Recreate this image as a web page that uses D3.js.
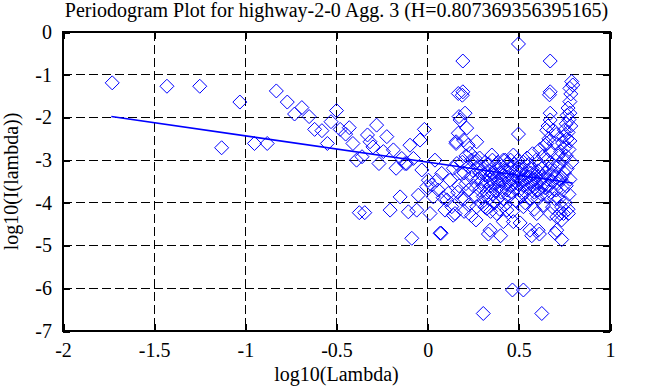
<!DOCTYPE html>
<html>
<head>
<meta charset="utf-8">
<script src="https://cdn.jsdelivr.net/npm/d3@7"></script>
<style>
body { margin: 0; background: #fff; }
svg text { font-family: "Liberation Serif", "DejaVu Serif", serif !important; fill: #000; }
</style>
</head>
<body>
<svg id="chart" width="648" height="387"></svg>
<script>
const title = "Periodogram Plot for highway-2-0 Agg. 3 (H=0.807369356395165)";
const xLabel = "log10(Lambda)";
const yLabel = "log10(I(lambda))";
const xTicks = [-2, -1.5, -1, -0.5, 0, 0.5, 1];
const yTicks = [0, -1, -2, -3, -4, -5, -6, -7];

// low frequencies, one point each
const lowBand = [
    [-1.73, -1.19], [-1.43, -1.27], [-1.25, -1.27], [-1.13, -2.71], [-1.03, -1.64],
    [-0.95, -2.61], [-0.88, -2.61], [-0.83, -1.38], [-0.77, -1.64], [-0.73, -1.92],
    [-0.69, -1.77], [-0.65, -1.98], [-0.62, -2.28], [-0.58, -2.31], [-0.55, -2.61],
    [-0.53, -2.10], [-0.50, -1.84], [-0.48, -2.28], [-0.45, -2.39], [-0.43, -2.24],
    [-0.41, -2.61], [-0.39, -3.00], [-0.375, -4.23], [-0.36, -2.92], [-0.345, -4.23],
    [-0.33, -2.41], [-0.316, -2.57], [-0.30, -2.69], [-0.28, -2.18], [-0.267, -3.08],
    [-0.243, -2.80], [-0.224, -2.45], [-0.206, -4.17], [-0.188, -2.76], [-0.173, -3.19],
    [-0.151, -3.86], [-0.142, -2.96], [-0.124, -3.08], [-0.115, -3.08], [-0.106, -4.21],
    [-0.097, -2.65], [-0.087, -4.83], [-0.078, -2.96], [-0.06, -4.17], [-0.051, -3.82],
    [-0.042, -2.53], [-0.032, -3.23], [-0.018, -2.28], [-0.005, -3.62], [0.004, -3.47],
    [0.013, -4.25], [0.022, -3.58], [0.031, -3.86], [0.040, -3.00], [0.050, -3.47],
    [0.058, -3.70], [0.068, -4.71], [0.077, -3.31], [0.085, -3.88], [0.095, -4.17],
    [0.105, -3.93], [0.113, -3.78], [0.123, -3.47], [0.132, -4.09], [0.141, -3.19],
    [0.150, -4.25], [0.156, -2.61], [0.160, -3.08], [0.165, -3.75], [0.172, -3.60],
    [0.180, -3.30], [0.185, -3.90], [0.190, -3.05]
];

// dense band at high frequencies: x with the y values stacked above it
const cloud = [
    [0.20, [-3.3, -3.9, -4.2]], [0.21, [-2.9, -3.55]], [0.225, [-3.15, -3.7, -4.05]],
    [0.24, [-3.4, -3.0, -4.3]], [0.25, [-3.6, -3.25]], [0.265, [-3.05, -3.85, -4.4]],
    [0.275, [-3.45, -3.15]], [0.285, [-3.7, -3.3, -2.95]], [0.295, [-3.5, -4.0]],
    [0.305, [-3.2, -3.6, -3.85]], [0.315, [-3.35, -3.05, -4.1]], [0.325, [-3.5, -3.75]],
    [0.335, [-3.25, -3.9, -3.1]], [0.345, [-3.45, -3.6, -4.2]], [0.355, [-3.3, -3.0, -3.8]],
    [0.365, [-3.55, -3.35, -4.0]], [0.375, [-3.2, -3.7, -3.45]], [0.385, [-3.05, -3.5, -3.9]],
    [0.395, [-3.3, -3.6, -4.15]], [0.405, [-3.15, -3.45, -3.75]], [0.415, [-3.35, -3.0, -3.9]],
    [0.425, [-3.55, -3.25, -4.05]], [0.435, [-3.4, -3.7, -3.1]], [0.445, [-3.3, -3.5, -3.85]],
    [0.455, [-3.2, -3.6, -3.0]], [0.465, [-3.45, -3.75, -4.2]], [0.475, [-3.35, -3.1, -3.55]],
    [0.485, [-3.25, -3.65, -3.95]], [0.495, [-3.4, -3.0, -3.55]], [0.505, [-3.3, -3.7, -3.15]],
    [0.515, [-3.5, -3.85, -3.2]], [0.525, [-3.35, -3.05, -3.6]], [0.535, [-3.45, -3.75, -4.0]],
    [0.545, [-3.25, -3.55, -2.95]], [0.555, [-3.4, -3.65, -3.1]], [0.565, [-3.3, -3.9, -3.5]],
    [0.575, [-3.2, -3.6, -2.85]], [0.585, [-3.45, -3.75, -4.15]], [0.595, [-3.35, -3.0, -3.55]],
    [0.605, [-3.25, -3.7, -3.9]], [0.615, [-3.5, -3.1, -2.75]], [0.625, [-3.4, -3.8, -3.2]],
    [0.635, [-3.55, -2.9, -4.05]], [0.645, [-3.3, -3.65, -2.65]], [0.655, [-3.45, -3.0, -3.85]],
    [0.665, [-3.2, -3.6, -2.5]], [0.675, [-3.35, -3.75, -2.8]], [0.685, [-3.5, -3.1, -4.1]],
    [0.695, [-3.25, -2.6, -3.9]], [0.705, [-3.4, -3.7, -2.4]], [0.715, [-3.15, -3.55, -2.9]],
    [0.72, [-3.1, -3.9]], [0.73, [-2.8, -3.45]], [0.735, [-3.4, -4.1]],
    [0.74, [-2.6, -3.7]], [0.745, [-2.45, -3.0, -4.25]], [0.75, [-2.3, -3.3]],
    [0.755, [-2.7, -4.0]], [0.76, [-2.15, -2.9, -3.6]], [0.765, [-1.95, -2.5, -3.2]],
    [0.77, [-1.78, -2.35, -4.15]], [0.775, [-2.05, -2.75, -3.8]], [0.78, [-1.32, -1.63, -1.90, -2.55, -3.45]],
    [0.785, [-1.45, -2.2]], [0.79, [-1.16, -3.05]], [0.796, [-1.24]]
];

// points away from the band
const farPoints = [
    [0.498, -0.28], [0.193, -0.68], [0.672, -0.68], [0.193, -1.40], [0.19, -1.48],
    [0.672, -1.40], [0.668, -1.47], [0.205, -1.90], [0.178, -2.06], [0.214, -2.25],
    [0.168, -2.37], [0.156, -2.57], [0.197, -2.53], [0.222, -2.65], [0.269, -2.57],
    [0.233, -2.84], [0.26, -2.96], [0.352, -2.88], [0.425, -3.0], [0.498, -2.39],
    [0.47, -2.88], [0.653, -2.30], [0.653, -2.61], [0.672, -1.90], [0.672, -2.06],
    [0.66, -2.2], [0.69, -2.3], [0.168, -1.44], [0.172, -1.98],
    [0.269, -4.09], [0.324, -4.13], [0.379, -4.25], [0.434, -4.17], [0.525, -4.09],
    [0.598, -4.25], [0.672, -4.25], [0.726, -4.25], [0.772, -4.25], [0.708, -4.33],
    [0.14, -4.29], [0.342, -4.64], [0.415, -4.44], [0.47, -4.44], [0.507, -4.47],
    [0.561, -4.64], [0.606, -4.64], [0.708, -4.64], [0.735, -4.40], [0.333, -4.73],
    [0.40, -4.77], [0.571, -4.77], [0.613, -4.73], [0.699, -4.71], [0.735, -4.86],
    [0.074, -4.71], [0.465, -6.04], [0.525, -6.04], [0.305, -6.59], [0.626, -6.59]
];

// least squares line, slope 1 - 2H
const fitEnds = [[-1.735, -1.98], [0.795, -3.535]];

const points = lowBand
    .concat(cloud.flatMap(d => d[1].map(v => [d[0], v])))
    .concat(farPoints);

const svg = d3.select("#chart");
const plotLeft = 63, plotRight = 610, plotTop = 32, plotBottom = 331;
const serif = "'Liberation Serif', 'DejaVu Serif', serif";

const x = d3.scaleLinear().domain([-2, 1]).range([plotLeft, plotRight]);
const y = d3.scaleLinear().domain([-7, 0]).range([plotBottom, plotTop]);

// dashed grid
svg.append("g")
    .selectAll("line")
    .data(xTicks.slice(1, -1))
    .enter()
    .append("line")
    .attr("x1", d => x(d)).attr("x2", d => x(d))
    .attr("y1", plotTop).attr("y2", plotBottom)
    .attr("stroke", "#000")
    .attr("stroke-dasharray", "9,4")
    .attr("shape-rendering", "crispEdges");

svg.append("g")
    .selectAll("line")
    .data(yTicks.slice(1, -1))
    .enter()
    .append("line")
    .attr("x1", plotLeft).attr("x2", plotRight)
    .attr("y1", d => y(d)).attr("y2", d => y(d))
    .attr("stroke", "#000")
    .attr("stroke-dasharray", "9,4")
    .attr("shape-rendering", "crispEdges");

// axes with inward ticks on all four sides
const tickLen = 7;
const plain = d => String(d);
svg.append("g")
    .attr("transform", `translate(0,${plotBottom})`)
    .call(d3.axisBottom(x).tickValues(xTicks).tickSize(-tickLen).tickPadding(12).tickFormat(plain))
    .call(g => g.select(".domain").remove());
svg.append("g")
    .attr("transform", `translate(0,${plotTop})`)
    .call(d3.axisTop(x).tickValues(xTicks).tickSize(-tickLen).tickFormat(""))
    .call(g => g.select(".domain").remove());
svg.append("g")
    .attr("transform", `translate(${plotLeft},0)`)
    .call(d3.axisLeft(y).tickValues(yTicks).tickSize(-tickLen).tickPadding(11).tickFormat(plain))
    .call(g => g.select(".domain").remove());
svg.append("g")
    .attr("transform", `translate(${plotRight},0)`)
    .call(d3.axisRight(y).tickValues(yTicks).tickSize(-tickLen).tickFormat(""))
    .call(g => g.select(".domain").remove());

svg.selectAll("g").attr("font-family", null).attr("font-size", null);
svg.selectAll(".tick line")
    .attr("stroke", "#000")
    .attr("stroke-width", 2)
    .attr("shape-rendering", "crispEdges");
svg.selectAll(".tick text")
    .style("font-family", serif)
    .style("font-size", "20px")
    .attr("fill", "#000");

svg.append("rect")
    .attr("x", plotLeft).attr("y", plotTop)
    .attr("width", plotRight - plotLeft).attr("height", plotBottom - plotTop)
    .attr("fill", "none")
    .attr("stroke", "#000")
    .attr("stroke-width", 2)
    .attr("shape-rendering", "crispEdges");

// data points as open diamonds
const diamond = "M0,-7L7,0L0,7L-7,0Z";
svg.append("g")
    .selectAll("path")
    .data(points)
    .enter()
    .append("path")
    .attr("d", diamond)
    .attr("transform", d => `translate(${x(d[0])},${y(d[1])})`)
    .attr("fill", "none")
    .attr("stroke", "#0000ff")
    .attr("stroke-width", 1);

// fitted line
svg.append("path")
    .datum(fitEnds)
    .attr("d", d3.line().x(d => x(d[0])).y(d => y(d[1])))
    .attr("fill", "none")
    .attr("stroke", "#0000ff")
    .attr("stroke-width", 1.6);

// titles
svg.append("text")
    .attr("x", (plotLeft + plotRight) / 2)
    .attr("y", 17)
    .attr("text-anchor", "middle")
    .style("font-family", serif)
    .style("font-size", "20px")
    .text(title);

svg.append("text")
    .attr("x", (plotLeft + plotRight) / 2)
    .attr("y", 381)
    .attr("text-anchor", "middle")
    .style("font-family", serif)
    .style("font-size", "20px")
    .text(xLabel);

svg.append("text")
    .attr("transform", `translate(18,${(plotTop + plotBottom) / 2}) rotate(-90)`)
    .attr("text-anchor", "middle")
    .style("font-family", serif)
    .style("font-size", "20px")
    .text(yLabel);
</script>
</body>
</html>
